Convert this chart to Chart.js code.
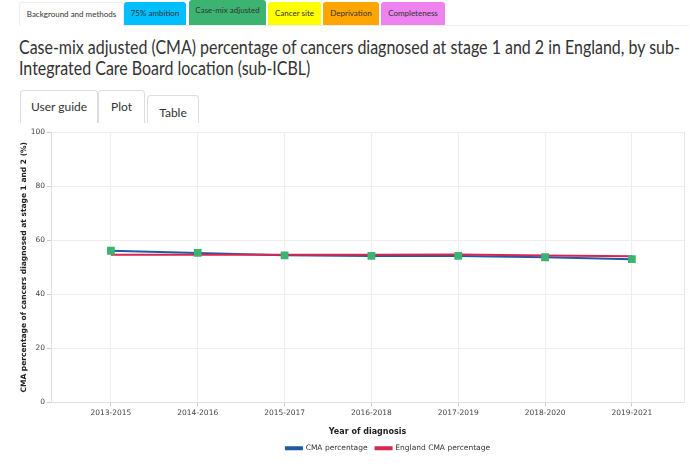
<!DOCTYPE html>
<html>
<head>
<meta charset="utf-8">
<script src="https://cdn.jsdelivr.net/npm/chart.js@4.4.1/dist/chart.umd.min.js"></script>
<style>
  body { margin: 0; width: 690px; height: 464px; background: #fff; font-family: Lato, "Open Sans", sans-serif; position: relative; overflow: hidden; }
  .tabs { position: absolute; top: 0; left: 19px; height: 25px; width: 670px; border-bottom: 1px solid #eee; }
  .tab { position: absolute; top: 2px; height: 23px; font-size: 8px; line-height: 23px; text-align: center; color: #333; border-radius: 3px 3px 0 0; }
  .title { position: absolute; left: 19px; top: 37px; font-size: 18.5px; line-height: 21px; color: #333; white-space: nowrap; }
  .title div { transform-origin: 0 0; }
  .sub { position: absolute; background: #fff; border: 1px solid #ddd; border-bottom: none; border-radius: 4px 4px 0 0; font-size: 12px; color: #333; text-align: center; }
  #wrap { position: absolute; left: 0; top: 125px; width: 690px; height: 339px; }
</style>
</head>
<body>
<div class="tabs">
  <div class="tab" style="left:0;width:103px;background:#fff;border:1px solid #eee;border-bottom:none;">Background and methods</div>
  <div class="tab" style="left:105px;width:62px;background:#00bfff;">75% ambition</div>
  <div class="tab" style="left:170px;width:77px;top:0;height:25px;line-height:20px;background:#3cb371;">Case-mix adjusted</div>
  <div class="tab" style="left:249px;width:53px;background:#ffff00;">Cancer site</div>
  <div class="tab" style="left:304px;width:56px;background:#ffa500;">Deprivation</div>
  <div class="tab" style="left:362px;width:64px;background:#ee82ee;">Completeness</div>
</div>
<div class="title">
  <div id="t1">Case-mix adjusted (CMA) percentage of cancers diagnosed at stage 1 and 2 in England, by sub-</div>
  <div id="t2">Integrated Care Board location (sub-ICBL)</div>
</div>
<div class="sub" style="left:20px;top:90px;width:76px;height:32px;line-height:32px;">User guide</div>
<div class="sub" style="left:98px;top:90px;width:45px;height:32px;line-height:32px;">Plot</div>
<div class="sub" style="left:147px;top:95px;width:50px;height:27px;line-height:34px;">Table</div>
<div id="wrap"><canvas id="chart"></canvas></div>
<script>
// data
var years = ['2013-2015', '2014-2016', '2015-2017', '2016-2018', '2017-2019', '2018-2020', '2019-2021'];
var cmaPct = [56.1, 55.3, 54.4, 54.2, 54.2, 53.7, 53.0];
var englandPct = [54.6, 54.6, 54.6, 54.6, 54.7, 54.3, 54.1];
var yTicks = [0, 20, 40, 60, 80, 100];

// squeeze title to the narrower font width of the original
var t1 = document.getElementById('t1');
var k = 661 / t1.scrollWidth;
t1.style.transform = 'scaleX(' + k + ')';
document.getElementById('t2').style.transform = 'scaleX(' + k + ')';

var blue = '#1f5aa6';
var red = '#d7264f';
var green = '#3cb371';

function pts(arr) {
  return arr.map(function (v, i) { return { x: i, y: v }; });
}

var boxPlugin = {
  id: 'box',
  afterLayout: function (chart) {
    // legend sits a bit right of centre in the original
    chart.legend.left += 36;
    chart.legend.right += 36;
  },
  afterDraw: function (chart) {
    var a = chart.chartArea, c = chart.ctx;
    c.save();
    c.strokeStyle = '#e6e6e6';
    c.lineWidth = 1;
    c.beginPath();
    c.moveTo(a.right + 0.5, a.top);
    c.lineTo(a.right + 0.5, a.bottom);
    c.stroke();
    c.restore();
  }
};

new Chart(document.getElementById('chart'), {
  type: 'line',
  data: {
    datasets: [
      { label: 'CMA percentage', data: pts(cmaPct), borderColor: blue, backgroundColor: blue, borderWidth: 2, pointRadius: 0, order: 3 },
      { label: 'England CMA percentage', data: pts(englandPct), borderColor: red, backgroundColor: red, borderWidth: 2, pointRadius: 0, order: 2 },
      { label: 'markers', data: pts(cmaPct), showLine: false, pointStyle: 'rect', pointRadius: 5.5, pointBackgroundColor: green, pointBorderWidth: 0, order: 1 }
    ]
  },
  plugins: [boxPlugin],
  options: {
    responsive: true,
    maintainAspectRatio: false,
    animation: false,
    layout: { padding: { left: 20, right: 6, top: 7, bottom: 2 } },
    scales: {
      x: {
        type: 'linear',
        min: -0.69,
        max: 6.6,
        afterBuildTicks: function (s) { s.ticks = s.ticks.filter(function (t) { return Number.isInteger(t.value); }); },
        afterFit: function (s) { s.height = 34; },
        ticks: { stepSize: 1, maxRotation: 0, autoSkip: false, color: '#444', font: { family: 'DejaVu Sans', size: 7.5 }, padding: 2,
          callback: function (v) { return years[v]; } },
        grid: { color: '#eeeeee', tickLength: 4, tickColor: '#cccccc' },
        border: { color: '#e0e0e0' },
        title: { display: true, text: 'Year of diagnosis', color: '#222', font: { family: 'DejaVu Sans', size: 8, weight: 'bold' }, padding: { top: 6, bottom: 0 } }
      },
      y: {
        min: 0,
        max: 100,
        afterBuildTicks: function (s) { s.ticks = yTicks.map(function (v) { return { value: v }; }); },
        afterFit: function (s) { s.width = 31; },
        ticks: { color: '#444', font: { family: 'DejaVu Sans', size: 7.5 }, padding: 2 },
        grid: { color: '#eeeeee', tickLength: 4, tickColor: '#cccccc' },
        border: { color: '#e0e0e0' },
        title: { display: true, text: 'CMA percentage of cancers diagnosed at stage 1 and 2 (%)', color: '#222', font: { family: 'DejaVu Sans', size: 7.5, weight: 'bold' }, padding: 0 }
      }
    },
    plugins: {
      tooltip: { enabled: false },
      legend: {
        position: 'bottom',
        labels: {
          boxWidth: 16,
          boxHeight: 2,
          padding: 8,
          color: '#333',
          font: { family: 'DejaVu Sans', size: 7.5 },
          filter: function (item) { return item.text !== 'markers'; },
          sort: function (a, b) { return a.datasetIndex - b.datasetIndex; }
        }
      }
    }
  }
});
</script>
</body>
</html>
